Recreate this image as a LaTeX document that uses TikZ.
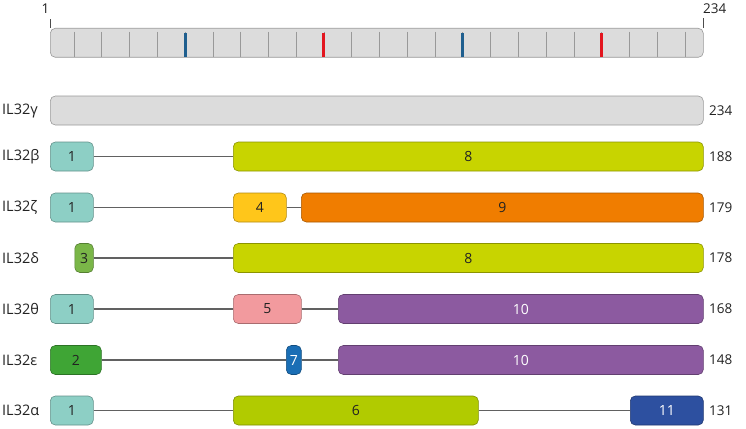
\documentclass[tikz,border=0pt]{standalone}
\usepackage{fontspec}
\setmainfont{Open Sans}
\usepackage{xcolor}
\usepackage{tikz}
\usetikzlibrary{positioning}
\definecolor{ilgrey}{HTML}{DCDCDC}
\definecolor{ilteal}{HTML}{8DCFC5}
\definecolor{illime}{HTML}{C8D400}
\definecolor{ilolive}{HTML}{B1CB00}
\definecolor{ilamber}{HTML}{FFC61A}
\definecolor{ilorange}{HTML}{F07D00}
\definecolor{illeaf}{HTML}{7AB648}
\definecolor{ilgreen}{HTML}{3FA535}
\definecolor{ilpink}{HTML}{F29A9E}
\definecolor{ilpurple}{HTML}{8C5AA0}
\definecolor{ilblue}{HTML}{1A6EB5}
\definecolor{ilnavy}{HTML}{2D50A0}
\definecolor{iltickblue}{HTML}{1F5F8F}
\definecolor{iltickred}{HTML}{E3161F}
\definecolor{iltext}{HTML}{222222}

\begin{document}
\begin{tikzpicture}[
    x=1pt, y=-1pt,
    exon/.style={draw=#1!70!black, fill=#1, line width=0.6pt, rounded corners=5pt, minimum height=29pt, inner sep=0pt, anchor=west, text=iltext, font=\fontsize{14}{16}\selectfont},
    darkexon/.style={exon=#1, text=white},
    intron/.style={line width=1.9pt, black!62},
    isoform/.style={anchor=west, inner sep=0pt, text=iltext, font=\fontsize{14.5}{16}\selectfont},
    length/.style={anchor=west, inner sep=0pt, text=iltext, font=\fontsize{13.5}{15}\selectfont},
    tick/.style={line width=0.7pt, black!40},
    site/.style={line width=3pt, #1},
  ]
    \useasboundingbox (0,0) rectangle (746,428);

    % full-length scale
    \node[draw=black!40, fill=ilgrey, line width=0.6pt, rounded corners=5pt, anchor=north west, minimum width=653pt, minimum height=29pt, inner sep=0pt] (scale) at (50,28) {};
    \foreach \k in {0,...,22}
      \draw[tick] (74+27.77*\k,32) -- (74+27.77*\k,57);
    \foreach \k/\c in {4/iltickblue, 9/iltickred, 14/iltickblue, 19/iltickred}
      \draw[site=\c] (74+27.77*\k,33) -- (74+27.77*\k,57);
    \draw[tick, black!70] (scale.north west) -- ++(0,-9);
    \draw[tick, black!70] (scale.north east) -- ++(0,-9.5);
    \node[length, anchor=east] (first) at (49.5,9) {1};
    \node[length] (last) at (703,9) {234};

    % isoform names and lengths
    \foreach \y/\n/\l in {110.5/γ/234, 156.5/β/188, 207.5/ζ/179, 258/δ/178, 309/θ/168, 360/ε/148, 410.5/α/131} {
      \node[isoform] at (2,\y) {IL32\n};
      \node[length] at (709,\y) {\l};
    }

    % gamma
    \node[exon=ilgrey, minimum width=653pt] (g0) at (50,110.5) {};

    % beta
    \node[exon=ilteal, minimum width=43pt] (b1) at (50,156.5) {1};
    \node[exon=illime, minimum width=470pt] (b8) at (233,156.5) {8};
    \draw[intron] (b1) -- (b8);

    % zeta
    \node[exon=ilteal, minimum width=43pt] (z1) at (50,207.5) {1};
    \node[exon=ilamber, minimum width=53pt] (z4) at (233,207.5) {4};
    \node[exon=ilorange, minimum width=402pt] (z9) at (301,207.5) {9};
    \draw[intron] (z1) -- (z4);
    \draw[intron] (z4) -- (z9);

    % delta
    \node[exon=illeaf, minimum width=18.5pt] (d3) at (74.5,258) {3};
    \node[exon=illime, minimum width=470pt] (d8) at (233,258) {8};
    \draw[intron] (d3) -- (d8);

    % theta
    \node[exon=ilteal, minimum width=43pt] (t1) at (50,309) {1};
    \node[exon=ilpink, minimum width=68pt] (t5) at (233,309) {5};
    \node[darkexon=ilpurple, minimum width=365pt] (t10) at (338,309) {10};
    \draw[intron] (t1) -- (t5);
    \draw[intron] (t5) -- (t10);

    % epsilon
    \node[exon=ilgreen, minimum width=51pt] (e2) at (50,360) {2};
    \node[darkexon=ilblue, minimum width=15pt] (e7) at (286,360) {7};
    \node[darkexon=ilpurple, minimum width=365pt] (e10) at (338,360) {10};
    \draw[intron] (e2) -- (e7);
    \draw[intron] (e7) -- (e10);

    % alpha
    \node[exon=ilteal, minimum width=43pt] (a1) at (50,410.5) {1};
    \node[exon=ilolive, minimum width=245pt] (a6) at (233,410.5) {6};
    \node[darkexon=ilnavy, minimum width=73pt] (a11) at (630,410.5) {11};
    \draw[intron] (a1) -- (a6);
    \draw[intron] (a6) -- (a11);
\end{tikzpicture}
\end{document}
